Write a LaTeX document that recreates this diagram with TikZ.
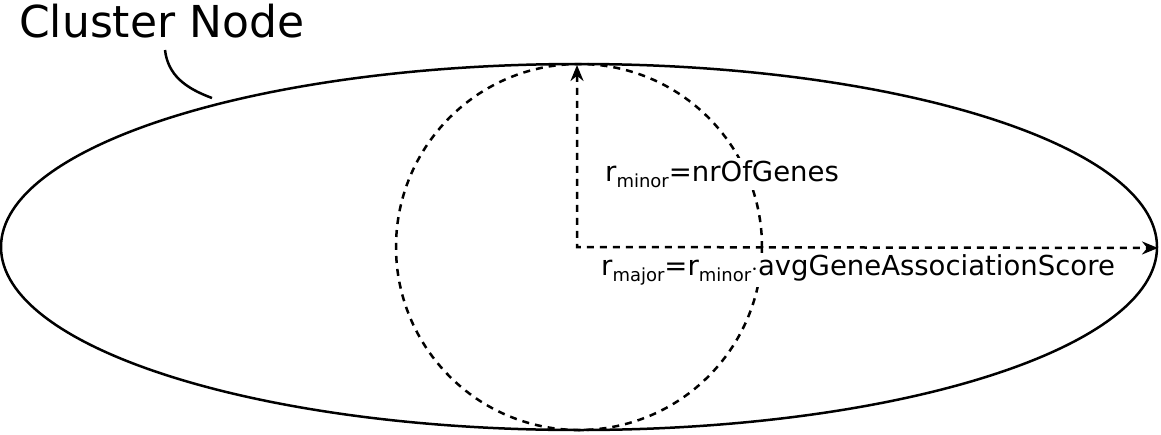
\documentclass[tikz,border=0pt]{standalone}
\usepackage{fontspec}
\setmainfont{DejaVu Sans}
\usetikzlibrary{positioning}
\usetikzlibrary{arrows.meta}
\newcommand{\lowidx}[1]{\raisebox{-6pt}{\fontsize{18}{21}\selectfont #1}}
\tikzstyle{outline} = [line width=2.5pt]
\tikzstyle{dashline} = [line width=2.5pt,dash pattern=on 7pt off 6pt]
\tikzstyle{lbl} = [fill=white,inner sep=2pt,font=\fontsize{27.5}{32}\selectfont]
\begin{document}
\begin{tikzpicture}[x=1pt,y=-1pt]
	\useasboundingbox (0,0) rectangle (1161,434);
	\coordinate (center) at (579,247);
	\draw[outline] (center) ellipse [x radius=578,y radius=183];
	\draw[dashline] (center) circle [radius=183];
	\coordinate (top) at (577,65);
	\coordinate (right) at (1158,248);
	\node[lbl,anchor=west] (minor) at (603,174) {r\lowidx{minor}=nrOfGenes};
	\node[lbl,anchor=west] (major) at (599,270) {r\lowidx{major}=r\lowidx{minor}$\cdot$avgGeneAssociationScore};
	\draw[dashline,{Stealth[length=16pt,width=13pt]}-{Stealth[length=16pt,width=13pt]}] (top) -- (577,247) -- (right);
	\node[anchor=base west,font=\fontsize{44}{52}\selectfont,inner sep=0pt] (title) at (19,37) {Cluster Node};
	\draw[outline] (165,50) .. controls (168,75) and (185,88) .. (212,98);
\end{tikzpicture}
\end{document}
